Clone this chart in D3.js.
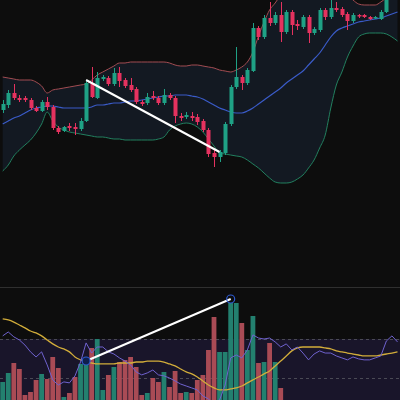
<!DOCTYPE html>
<html><head><meta charset="utf-8">
<script src="https://cdn.jsdelivr.net/npm/d3@7"></script>
<style>html,body{margin:0;padding:0;background:#0d0d0d;}svg{display:block;}</style>
</head><body>
<script>
// ---- data ----
const openP  = [119.0,119.5,120.7,120.2,120.2,120.0,119.2,118.9,119.8,119.3,117.2,116.9,117.4,117.3,117.1,117.9,121.7,120.2,122.1,122.2,121.6,122.7,122.0,121.5,121.1,119.8,119.7,120.4,120.2,119.7,120.5,120.2,118.4,118.3,118.4,118.3,117.9,117.0,114.7,114.3,114.7,117.6,121.3,122.3,121.7,122.9,127.2,126.3,128.2,127.7,128.5,126.8,128.8,127.6,127.3,128.3,126.7,127.0,129.0,128.3,129.2,129.1,128.6,127.9,128.5,128.5,128.3,128.15,128.1,128.8];
const highP  = [120.0,121.0,121.6,120.5,120.4,120.2,119.4,120.0,120.3,119.5,117.4,117.4,117.7,117.7,118.2,122.0,123.3,122.8,122.5,122.4,123.2,123.3,122.2,122.2,121.3,120.0,120.7,120.9,120.4,121.1,120.7,120.4,118.7,118.8,118.8,118.6,118.1,117.2,115.0,115.0,117.8,121.5,125.3,122.5,123.2,127.7,127.4,128.5,129.8,128.8,129.8,129.0,129.0,128.0,128.5,128.5,127.3,129.2,129.2,130.0,129.8,129.3,128.8,128.7,128.6,128.6,128.4,128.4,129.0,130.5];
const lowP   = [118.7,119.2,120.0,119.8,119.8,119.0,118.8,118.8,119.0,117.0,116.6,116.8,116.9,116.5,116.9,117.8,120.2,120.1,121.9,121.4,121.4,121.3,121.2,120.8,119.6,119.4,119.5,120.0,119.5,119.5,120.0,117.7,117.9,118.1,117.9,117.5,116.8,114.3,113.3,113.8,114.5,117.4,121.1,121.0,121.5,122.8,126.0,126.1,127.4,127.5,125.8,126.6,126.5,127.0,127.1,125.7,126.5,126.8,128.0,128.1,128.8,128.3,127.0,127.7,128.2,128.2,128.0,128.1,128.0,128.7];
const closeP = [119.6,120.7,120.2,120.0,120.0,119.2,118.9,119.8,119.3,117.2,116.8,117.3,117.2,117.1,117.9,121.7,120.3,122.2,122.3,121.6,122.7,121.9,121.4,121.0,119.8,119.6,120.3,120.2,119.7,120.5,120.2,118.4,118.2,118.5,118.2,117.8,117.0,114.6,114.3,114.8,117.6,121.3,122.3,121.7,123.0,127.2,126.3,128.2,127.7,128.5,126.8,128.8,127.5,127.4,128.3,126.7,127.1,129.0,128.3,129.2,129.0,128.5,127.9,128.5,128.35,128.3,128.1,128.3,128.8,130.0];

const bbUpper = [122.3,122.2,122.1,122.0,122.0,122.0,121.8,121.4,120.7,121.0,121.1,121.2,121.3,121.4,121.5,121.6,122.0,122.5,122.8,123.1,123.4,123.7,123.7,123.8,123.8,123.8,123.8,123.8,123.8,123.8,123.7,123.5,123.4,123.4,123.5,123.5,123.4,123.3,123.2,123.0,122.9,122.8,123.0,123.3,123.8,124.8,126.4,127.8,129.0,129.7,130.5,131.2,131.7,132.0,132.2,132.3,132.3,132.2,132.0,131.8,131.5,131.0,130.5,130.0,129.6,129.5,129.5,129.5,129.8,130.2,130.6,131.0];
const bbMiddle = [117.6,117.9,118.2,118.4,118.7,119.0,119.2,119.3,119.4,119.4,119.3,119.2,119.2,119.2,119.2,119.2,119.3,119.5,119.5,119.6,119.7,119.7,119.8,119.9,119.9,120.0,120.1,120.2,120.3,120.4,120.4,120.5,120.5,120.5,120.4,120.3,120.1,119.8,119.5,119.2,119.0,118.8,118.7,118.7,118.9,119.2,119.6,120.0,120.4,120.8,121.2,121.7,122.1,122.5,122.9,123.5,124.1,124.7,125.5,126.3,126.9,127.2,127.4,127.6,127.8,127.9,128.0,128.1,128.2,128.4,128.6,128.8];
const bbLower = [112.9,113.5,114.4,115.0,115.5,116.0,116.7,117.6,118.8,117.9,117.3,117.0,116.8,116.7,116.6,116.5,116.4,116.3,116.3,116.2,116.1,116.1,116.0,116.0,116.0,116.0,116.0,116.0,116.1,116.3,117.0,117.4,117.6,117.7,117.6,117.3,116.8,116.1,115.4,114.7,114.6,114.5,114.4,114.3,114.0,113.6,113.2,112.7,112.2,111.8,111.7,111.7,111.8,112.1,112.5,113.2,114.0,115.2,116.5,119.2,121.5,122.8,124.3,125.4,126.3,126.6,126.7,126.7,126.7,126.6,126.3,125.9];

const volume = [18,27,37,31,5,8,20,26,21,43,32,3,7,23,36,40,52,61,10,25,33,38,40,43,33,5,7,22,18,28,13,29,7,8,7,20,25,50,83,48,48,97,97,77,50,84,37,38,57,38,12];

const rsi = [71.6,73.6,71.1,69.5,66.9,63.4,60.8,63.4,56.7,49.0,46.4,48.0,47.5,51.1,58.2,68.0,62.8,65.9,65.9,63.4,62.3,60.3,58.7,56.7,53.1,51.6,52.6,54.1,51.6,51.1,50.0,48.5,46.9,45.9,44.9,43.9,40.8,39.3,36.2,38.7,46.4,60.3,61.8,60.3,64.4,72.1,70.5,70.0,70.5,68.5,65.9,67.5,64.4,65.9,62.8,59.3,62.3,63.9,62.8,62.8,61.3,60.3,59.3,60.8,59.8,59.3,59.3,60.3,61.3,69.0,71.6,68.5];
const rsiMA = [80.3,79.8,78.7,77.2,75.7,74.1,73.1,71.6,69.5,67.5,65.9,64.9,63.4,60.8,59.3,58.2,57.7,57.2,57.2,57.2,57.2,57.7,57.7,57.7,58.2,58.2,58.7,58.7,58.7,58.2,57.2,56.2,54.6,53.1,52.1,50.5,48.5,46.4,44.9,43.9,43.9,44.4,44.9,45.9,47.5,49.0,50.5,52.1,53.6,56.2,58.7,61.3,63.9,65.4,65.9,65.9,65.9,65.9,65.4,64.9,63.9,63.4,62.8,62.3,61.8,61.3,61.3,61.3,61.8,62.3,62.8,63.4];
const rsiLevels = [70, 50];
const rsiBand = [70, 30];

const divPriceIdx = [15, 39];
const divPriceVal = [122.0, 114.8];
const divVolIdx = [15, 41];
const divVolVal = [39, 101];

// ---- drawing ----
const W = 400, H = 400;
const svg = d3.select("body").append("svg").attr("width", W).attr("height", H);
svg.append("rect").attr("width", W).attr("height", H).attr("fill", "#0d0d0d");

const x = d3.scaleLinear().domain([0, 71]).range([2.7, 397.5]);
const yP = d3.scaleLinear().domain([100, 130]).range([300, 0]);
const yV = d3.scaleLinear().domain([0, 100]).range([400, 300]);
const yR = d3.scaleLinear().domain([50, 70]).range([378, 339]);

const GREEN = "#1fa185", RED = "#e5325f";
const idx = d3.range(72);

const defs = svg.append("defs");
defs.append("clipPath").attr("id", "clipTop").append("rect").attr("x", 0).attr("y", 0).attr("width", W).attr("height", 286);
defs.append("clipPath").attr("id", "clipBot").append("rect").attr("x", 0).attr("y", 288).attr("width", W).attr("height", 112);

const topG = svg.append("g").attr("clip-path", "url(#clipTop)");
topG.append("path")
  .datum(idx)
  .attr("fill", "#131922")
  .attr("d", d3.area().x(i => x(i)).y0(i => yP(bbLower[i])).y1(i => yP(bbUpper[i])).curve(d3.curveMonotoneX));
const bandLine = arr => d3.line().x(i => x(i)).y(i => yP(arr[i])).curve(d3.curveMonotoneX);
topG.append("path").datum(idx).attr("fill", "none").attr("stroke", "#a24c52").attr("stroke-width", 1).attr("d", bandLine(bbUpper));
topG.append("path").datum(idx).attr("fill", "none").attr("stroke", "#3a5bc8").attr("stroke-width", 1.2).attr("d", bandLine(bbMiddle));
topG.append("path").datum(idx).attr("fill", "none").attr("stroke", "#22805f").attr("stroke-width", 1).attr("d", bandLine(bbLower));

const cIdx = d3.range(openP.length);
const cg = topG.append("g");
cg.selectAll("line.wick").data(cIdx).join("line")
  .attr("x1", i => Math.round(x(i)) + 0.5).attr("x2", i => Math.round(x(i)) + 0.5)
  .attr("y1", i => yP(highP[i])).attr("y2", i => yP(lowP[i]))
  .attr("stroke", i => closeP[i] >= openP[i] ? GREEN : RED).attr("stroke-width", 1);
cg.selectAll("rect.body").data(cIdx).join("rect")
  .attr("x", i => Math.round(x(i)) - 1.5).attr("width", 4)
  .attr("y", i => yP(Math.max(openP[i], closeP[i])))
  .attr("height", i => Math.max(1.5, Math.abs(yP(openP[i]) - yP(closeP[i]))))
  .attr("fill", i => closeP[i] >= openP[i] ? GREEN : RED);

topG.append("line")
  .attr("x1", x(divPriceIdx[0])).attr("y1", yP(divPriceVal[0]))
  .attr("x2", x(divPriceIdx[1])).attr("y2", yP(divPriceVal[1]))
  .attr("stroke", "#ffffff").attr("stroke-width", 2);

svg.append("line").attr("x1", 0).attr("x2", W).attr("y1", 287.5).attr("y2", 287.5).attr("stroke", "#2f2f2f").attr("stroke-width", 1);

const botG = svg.append("g").attr("clip-path", "url(#clipBot)");
botG.append("rect").attr("x", 0).attr("width", W)
  .attr("y", yR(rsiBand[0])).attr("height", yR(rsiBand[1]) - yR(rsiBand[0]))
  .attr("fill", "#19152a");
botG.selectAll("line.lvl").data(rsiLevels).join("line")
  .attr("x1", 0).attr("x2", W).attr("y1", d => Math.round(yR(d)) + 0.5).attr("y2", d => Math.round(yR(d)) + 0.5)
  .attr("stroke", "#4a4a55").attr("stroke-dasharray", "3,3").attr("stroke-width", 1);

const vIdx = d3.range(volume.length);
botG.selectAll("rect.vol").data(vIdx).join("rect")
  .attr("x", i => x(i) - 2.4).attr("width", 4.8)
  .attr("y", i => yV(volume[i])).attr("height", i => yV(0) - yV(volume[i]))
  .attr("fill", i => closeP[i] >= openP[i] ? "#23806f" : "#a94b55");

const rLine = arr => d3.line().x(i => x(i)).y(i => yR(arr[i]));
botG.append("path").datum(idx).attr("fill", "none").attr("stroke", "#d2ad3a").attr("stroke-width", 1.3)
  .attr("d", rLine(rsiMA).curve(d3.curveMonotoneX));
botG.append("path").datum(idx).attr("fill", "none").attr("stroke", "#6f62cf").attr("stroke-width", 1)
  .attr("d", rLine(rsi));

botG.append("line")
  .attr("x1", x(divVolIdx[0])).attr("y1", yV(divVolVal[0]))
  .attr("x2", x(divVolIdx[1])).attr("y2", yV(divVolVal[1]))
  .attr("stroke", "#ffffff").attr("stroke-width", 2);
botG.append("circle").attr("cx", x(divVolIdx[0])).attr("cy", yV(divVolVal[0])).attr("r", 4)
  .attr("fill", "#0f1f4d").attr("stroke", "#2f5bd0").attr("stroke-width", 1.2);
botG.append("circle").attr("cx", x(divVolIdx[1])).attr("cy", yV(divVolVal[1])).attr("r", 4)
  .attr("fill", "none").attr("stroke", "#2f5bd0").attr("stroke-width", 1.2);
</script>
</body></html>
